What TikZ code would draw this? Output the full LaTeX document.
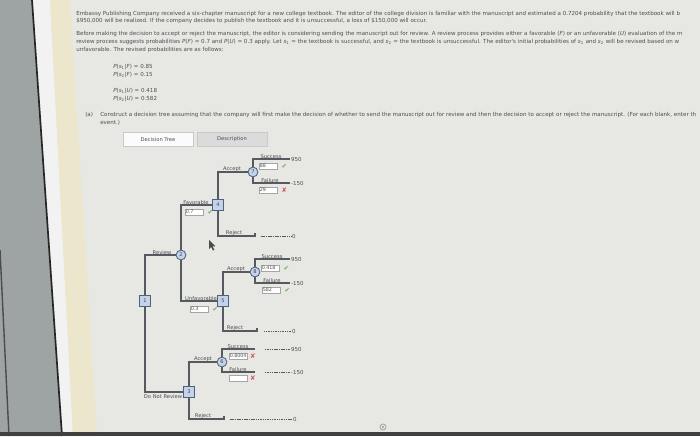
\documentclass[tikz,border=0pt]{standalone}
\usepackage{fontspec}
\usetikzlibrary{positioning}
\newfontfamily\uifont{DejaVu Sans}

\definecolor{pagebg}{RGB}{231,231,228}
\definecolor{stripgray}{RGB}{158,163,163}
\definecolor{stripyellow}{RGB}{236,231,204}
\definecolor{textgray}{RGB}{78,78,78}
\definecolor{treeline}{RGB}{85,90,95}
\definecolor{nodefill}{RGB}{196,211,231}
\definecolor{nodeedge}{RGB}{78,98,128}
\definecolor{boxedge}{RGB}{165,165,165}
\definecolor{okgreen}{RGB}{105,168,105}
\definecolor{badred}{RGB}{214,84,96}

\tikzset{
  prose/.style={font=\uifont\fontsize{3.95}{4.6}\selectfont, text=textgray, anchor=base west, inner sep=0pt},
  tabbox/.style={draw=boxedge!60, line width=0.3pt, minimum width=1.75cm, minimum height=0.35cm,
    font=\uifont\fontsize{3.7}{4.4}\selectfont, text=textgray},
  branch/.style={draw=treeline, line width=1pt},
  leader/.style={draw=treeline, line width=0.35pt, dash pattern=on 0.8pt off 0.45pt},
  decision/.style={rectangle, draw=nodeedge, fill=nodefill, line width=0.6pt, minimum size=7.6pt,
    inner sep=0pt, font=\uifont\fontsize{3.6}{4}\selectfont, text=nodeedge!70!black},
  chance/.style={circle, draw=nodeedge, fill=nodefill, line width=0.6pt, minimum size=7pt,
    inner sep=0pt, font=\uifont\fontsize{3.6}{4}\selectfont, text=nodeedge!70!black},
  lbl/.style={font=\uifont\fontsize{3.7}{4.1}\selectfont, text=textgray, inner sep=0.4pt},
  val/.style={font=\uifont\fontsize{3.9}{4.5}\selectfont, text=textgray, inner sep=0.6pt, anchor=west},
  ansbox/.style={draw=boxedge, fill=white, line width=0.35pt, text width=0.41cm, minimum height=0.15cm,
    inner sep=0.5pt, align=left, font=\uifont\fontsize{3.4}{3.8}\selectfont, text=textgray},
  okmark/.style={font=\uifont\fontsize{4.6}{5}\selectfont, text=okgreen, inner sep=0pt},
  badmark/.style={font=\uifont\fontsize{4.6}{5}\selectfont, text=badred, inner sep=0pt}
}

\begin{document}
\begin{tikzpicture}[x=0.025cm,y=-0.025cm]

\useasboundingbox (0,0) rectangle (700,436);
\clip (0,0) rectangle (700,436);

% screen edge and page
\fill[pagebg] (0,0) rectangle (700,436);
\fill[stripgray] (0,0) -- (32,0) -- (62,436) -- (0,436) -- cycle;
\fill[white!90!gray] (33,0) -- (50,0) -- (73,436) -- (63,436) -- cycle;
\fill[stripyellow] (50,0) -- (70,0) -- (97,436) -- (73,436) -- cycle;
\draw[black!85, line width=1.2pt] (32,0) -- (62,436);
\draw[black!70, line width=1pt] (0,250) -- (9,436);
\fill[black!75] (0,432) rectangle (700,436);

% problem text
\node[prose] (t1) at (76,15) {Embassy Publishing Company received a six-chapter manuscript for a new college textbook. The editor of the college division is familiar with the manuscript and estimated a 0.7204 probability that the textbook will b};
\node[prose] (t2) at (76,22) {\$950,000 will be realized. If the company decides to publish the textbook and it is unsuccessful, a loss of \$150,000 will occur.};
\node[prose] (t3) at (76,35) {Before making the decision to accept or reject the manuscript, the editor is considering sending the manuscript out for review. A review process provides either a favorable (\textit{F}) or an unfavorable (\textit{U}) evaluation of the m};
\node[prose] (t4) at (76,43) {review process suggests probabilities \textit{P}(\textit{F}) = 0.7 and \textit{P}(\textit{U}) = 0.3 apply. Let \textit{s}\textsubscript{1} = the textbook is successful, and \textit{s}\textsubscript{2} = the textbook is unsuccessful. The editor's initial probabilities of \textit{s}\textsubscript{1} and \textit{s}\textsubscript{2} will be revised based on w};
\node[prose] (t5) at (76,51) {unfavorable. The revised probabilities are as follows:};
\node[prose] (p1) at (113,68) {\textit{P}(\textit{s}\textsubscript{1}|\textit{F}) = 0.85};
\node[prose] (p2) at (113,76) {\textit{P}(\textit{s}\textsubscript{2}|\textit{F}) = 0.15};
\node[prose] (p3) at (113,92) {\textit{P}(\textit{s}\textsubscript{1}|\textit{U}) = 0.418};
\node[prose] (p4) at (113,100) {\textit{P}(\textit{s}\textsubscript{2}|\textit{U}) = 0.582};
\node[prose] (qa) at (85,116) {(a)};
\node[prose] (q1) at (100,116) {Construct a decision tree assuming that the company will first make the decision of whether to send the manuscript out for review and then the decision to accept or reject the manuscript. (For each blank, enter th};
\node[prose] (q2) at (100,124) {event.)};

% tabs
\node[tabbox, fill=white!97!gray] (tree) at (158,139.5) {Decision Tree};
\node[tabbox, fill=black!14] (desc) at (232,139.5) {Description};

% tree nodes
\node[decision] (n1) at (145,301) {1};
\node[chance] (n2) at (181,255) {2};
\node[decision] (n3) at (189,392) {3};
\node[decision] (n4) at (218,205) {4};
\node[decision] (n5) at (223,301) {5};
\node[chance] (n6) at (222,362) {6};
\node[chance] (n7) at (253,172) {7};
\node[chance] (n8) at (255,272) {8};

% branch ends
\coordinate (e7s) at (290,159);
\coordinate (e7f) at (290,183);
\coordinate (e4r) at (255,236);
\coordinate (e8s) at (290,259);
\coordinate (e8f) at (290,283);
\coordinate (e5r) at (257,331);
\coordinate (e6s) at (255,349);
\coordinate (e6f) at (255,372);
\coordinate (e3r) at (224,419);

% branches
\draw[branch] (n1.north) |- (n2.west);
\draw[branch] (n1.south) |- (n3.west);
\draw[branch] (n2.north) |- (n4.west);
\draw[branch] (n2.south) |- (n5.west);
\draw[branch] (n4.north) |- (n7.west);
\draw[branch] (n4.south) |- (e4r) -- ++(0,-3);
\draw[branch] (n7.north) |- (e7s);
\draw[branch] (n7.south) |- (e7f);
\draw[branch] (n5.north) |- (n8.west);
\draw[branch] (n5.south) |- (e5r) -- ++(0,-3);
\draw[branch] (n8.north) |- (e8s);
\draw[branch] (n8.south) |- (e8f);
\draw[branch] (n3.north) |- (n6.west);
\draw[branch] (n3.south) |- (e3r) -- ++(0,-3);
\draw[branch] (n6.north) |- (e6s);
\draw[branch] (n6.south) |- (e6f);

% payoffs
\node[val] (v7s) at (e7s) {950};
\node[val] (v7f) at (e7f) {-150};
\node[val] (v4r) at (291,236) {0};
\node[val] (v8s) at (e8s) {950};
\node[val] (v8f) at (e8f) {-150};
\node[val] (v5r) at (291,331) {0};
\node[val] (v6s) at (290,349) {950};
\node[val] (v6f) at (290,372) {-150};
\node[val] (v3r) at (292,419) {0};
\draw[leader] ([xshift=4]e4r) -- (v4r.west);
\draw[leader] ([xshift=5]e5r) -- (v5r.west);
\draw[leader] ([xshift=7]e6s) -- (v6s.west);
\draw[leader] ([xshift=7]e6f) -- (v6f.west);
\draw[leader] ([xshift=4]e3r) -- (v3r.west);

% branch labels
\node[lbl, anchor=south] (lrev) at (162,255) {Review};
\node[lbl] (lnot) at (163,397) {Do Not Review};
\node[lbl, anchor=south] (lfav) at (196,205) {Favorable};
\node[lbl, anchor=south] (lunf) at (201,301) {Unfavorable};
\node[lbl, anchor=south] (la4) at (232,172) {Accept};
\node[lbl, anchor=south] (lr4) at (234,236) {Reject};
\node[lbl, anchor=south] (ls7) at (271,159) {Success};
\node[lbl, anchor=south] (lf7) at (270,183) {Failure};
\node[lbl, anchor=south] (la5) at (236,272) {Accept};
\node[lbl, anchor=south] (lr5) at (235,331) {Reject};
\node[lbl, anchor=south] (ls8) at (272,259) {Success};
\node[lbl, anchor=south] (lf8) at (272,283) {Failure};
\node[lbl, anchor=south] (la3) at (203,362) {Accept};
\node[lbl, anchor=south] (lr3) at (203,419) {Reject};
\node[lbl, anchor=south] (ls6) at (238,349) {Success};
\node[lbl, anchor=south] (lf6) at (238,372) {Failure};

% answer boxes
\node[ansbox] (b2f) at (194,212) {0.7};
\node[okmark, right=3pt of b2f] {✔};
\node[ansbox] (b2u) at (199,309) {0.3};
\node[okmark, right=3pt of b2u] {✔};
\node[ansbox] (b7s) at (268,166) {88};
\node[okmark, right=3pt of b7s] {✔};
\node[ansbox] (b7f) at (268,190) {29};
\node[badmark, right=3pt of b7f] {✘};
\node[ansbox] (b8s) at (270,268) {0.418};
\node[okmark, right=3pt of b8s] {✔};
\node[ansbox] (b8f) at (271,290) {582};
\node[okmark, right=3pt of b8f] {✔};
\node[ansbox] (b6s) at (238,356) {0.8004};
\node[badmark, right=2pt of b6s] {✘};
\node[ansbox] (b6f) at (238,378) {};
\node[badmark, right=2pt of b6f] {✘};

% pointer and page icon
\fill[black!70] (209,240) -- (209,249) -- (211.2,247) -- (213,250.5) -- (214.4,249.8) -- (212.6,246.4) -- (215.4,246.2) -- cycle;
\draw[black!40, line width=0.5pt] (383,427) circle (3);
\fill[black!40] (383,427) circle (1.2);

\end{tikzpicture}
\end{document}
